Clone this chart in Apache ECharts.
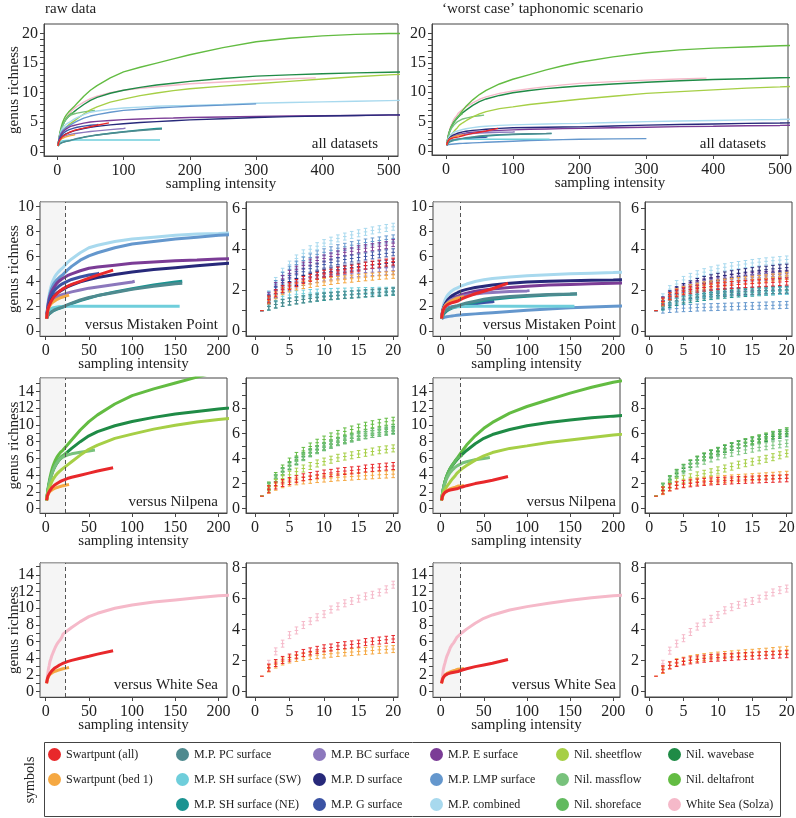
<!DOCTYPE html>
<html><head><meta charset="utf-8">
<script src="https://cdn.jsdelivr.net/npm/echarts@6/dist/echarts.min.js"></script>
<style>html,body{margin:0;padding:0;background:#fff}#c{width:796px;height:818px}</style>
</head><body><div id="c"></div>
<script>
const FONT = '"Liberation Serif","DejaVu Serif",serif';

// sampling-intensity grid: x = 1..20, then the coarser tail, then each dataset's last x
const XS_HEAD = [1,2,3,4,5,6,7,8,9,10,11,12,13,14,15,16,17,18,19,20];
const XS_TAIL = [25,30,40,50,60,80,100,125,150,175,200,250,300,350,400,450,500];

const NAMES = ['Swartpunt (all)','Swartpunt (bed 1)','M.P. PC surface','M.P. SH surface (SW)','M.P. SH surface (NE)',
  'M.P. BC surface','M.P. D surface','M.P. G surface','M.P. E surface','M.P. LMP surface','M.P. combined',
  'Nil. sheetflow','Nil. massflow','Nil. shoreface','Nil. wavebase','Nil. deltafront','White Sea (Solza)'];
const COLORS = ['#e8282b','#f5a842','#4f8a8f','#6fcedb','#1b9391','#8c78bd','#27297a','#3b53a4','#7b3c96','#6497cd',
  '#a8d9ee','#a6cf46','#78c27c','#62ba5f','#1f8b46','#63bc42','#f5b9c9'];
const END_X = [78,27,158,155,158,103,520,62,520,300,520,520,57,25,520,520,390];

// raw data (values at XS_HEAD, then XS_TAIL below END_X, then END_X)
const rawSwAll  = [1,1.55,1.85,2.05,2.2,2.35,2.5,2.6,2.7,2.8,2.85,2.95,3.0,3.05,3.1,3.2,3.25,3.3,3.35,3.4, 3.6,3.75,4.0,4.25,4.5,4.9];
const rawSwBed1 = [1,1.5,1.75,1.95,2.08,2.18,2.25,2.3,2.36,2.4,2.45,2.5,2.53,2.56,2.6,2.63,2.66,2.7,2.72,2.75, 2.85,2.9];
const rawPC     = [1,1.2,1.3,1.38,1.45,1.5,1.55,1.6,1.65,1.7,1.72,1.75,1.78,1.8,1.83,1.86,1.88,1.9,1.92,1.95, 2.1,2.25,2.5,2.7,2.85,3.1,3.35,3.6,3.8,3.85];
const rawShSW   = [1,1.4,1.6,1.7,1.76,1.8,1.83,1.86,1.88,1.9,1.91,1.92,1.93,1.94,1.95,1.96,1.96,1.97,1.97,1.98, 1.99,2,2,2,2,2,2,2,2,2];
const rawShNE   = [1,1.2,1.3,1.38,1.44,1.5,1.55,1.6,1.63,1.67,1.7,1.73,1.76,1.78,1.8,1.83,1.85,1.87,1.9,1.92, 2.05,2.2,2.45,2.65,2.85,3.15,3.4,3.7,3.95,4.0];
const rawBC     = [1,1.5,1.8,2.0,2.15,2.28,2.4,2.48,2.55,2.62,2.67,2.72,2.76,2.8,2.83,2.86,2.88,2.9,2.92,2.95, 3.05,3.15,3.3,3.45,3.55,3.75,3.95,4.0];
const rawD      = [1,1.5,1.8,2.05,2.25,2.4,2.55,2.65,2.75,2.85,2.92,3.0,3.05,3.1,3.15,3.2,3.23,3.26,3.3,3.35, 3.55,3.7,3.95,4.15,4.3,4.55,4.75,4.95,5.1,5.25,5.4,5.6,5.8,5.95,6.05,6.15,6.25,6.25];
const rawG      = [1,1.6,2.0,2.3,2.55,2.75,2.9,3.05,3.15,3.25,3.35,3.42,3.5,3.55,3.6,3.65,3.7,3.75,3.8,3.85, 4.0,4.15,4.35,4.5,4.6,4.65];
const rawE      = [1,1.7,2.2,2.55,2.8,3.0,3.2,3.35,3.45,3.55,3.65,3.75,3.85,3.9,4.0,4.05,4.1,4.15,4.2,4.3, 4.45,4.6,4.85,5.05,5.15,5.3,5.45,5.55,5.65,5.72,5.8,5.9,6.0,6.05,6.1,6.15,6.2,6.2];
const rawLMP    = [1,1.75,2.3,2.7,3.0,3.25,3.45,3.6,3.75,3.85,3.95,4.05,4.12,4.2,4.27,4.33,4.38,4.43,4.48,4.53, 4.9,5.2,5.7,6.05,6.3,6.7,7.0,7.2,7.4,7.55,7.7,7.9,8.1];
const rawComb   = [1,1.8,2.45,2.9,3.25,3.55,3.8,4.0,4.15,4.3,4.42,4.53,4.62,4.7,4.78,4.85,4.92,4.98,5.04,5.1, 5.5,5.8,6.3,6.7,6.9,7.2,7.4,7.55,7.7,7.8,7.85,8.0,8.2,8.35,8.45,8.55,8.65,8.7];
const rawSheet  = [1,1.6,2.05,2.4,2.7,2.95,3.2,3.4,3.6,3.75,3.9,4.05,4.15,4.25,4.35,4.45,4.55,4.65,4.72,4.8, 5.2,5.6,6.4,7.1,7.6,8.4,8.9,9.5,9.95,10.35,10.65,11.1,11.5,11.9,12.3,12.7,13.0,13.1];
const rawMass   = [1,1.75,2.4,2.9,3.35,3.75,4.1,4.4,4.65,4.9,5.1,5.3,5.45,5.6,5.72,5.85,5.95,6.05,6.12,6.2, 6.4,6.55,6.75,6.9,7.0];
const rawShore  = [1,1.8,2.45,3.0,3.45,3.85,4.2,4.5,4.75,5.0,5.2,5.4,5.55,5.7,5.85,6.0,6.1,6.2,6.3,6.4, 6.7];
const rawWave   = [1,1.75,2.4,2.95,3.4,3.8,4.15,4.45,4.7,4.9,5.1,5.3,5.45,5.6,5.75,5.85,5.95,6.05,6.15,6.25, 6.75,7.2,8.0,8.7,9.2,9.9,10.4,10.9,11.3,11.6,11.9,12.4,12.8,13.0,13.2,13.35,13.45,13.5];
const rawDelta  = [1,1.85,2.6,3.2,3.75,4.2,4.6,4.95,5.25,5.5,5.75,5.95,6.15,6.3,6.45,6.6,6.72,6.83,6.92,7.0, 7.6,8.2,9.4,10.4,11.2,12.5,13.5,14.3,15.0,15.7,16.4,17.6,18.6,19.2,19.6,19.85,20.0,20.0];
const rawPink   = [1,1.8,2.6,3.1,3.65,3.95,4.3,4.55,4.8,5.0,5.3,5.5,5.7,5.85,6.0,6.15,6.25,6.4,6.6,6.9, 7.3,7.7,8.4,9.0,9.4,10.0,10.4,10.75,11.0,11.25,11.5,11.8,12.1,12.35,12.5];

// 'worst case' taphonomic scenario
const wSwAll  = [1,1.45,1.7,1.85,1.95,2.02,2.08,2.13,2.17,2.2,2.23,2.25,2.28,2.3,2.32,2.34,2.36,2.38,2.4,2.42, 2.6,2.75,3.0,3.2,3.4,3.85];
const wSwBed1 = [1,1.4,1.7,1.9,2.0,2.1,2.17,2.23,2.28,2.33,2.37,2.41,2.45,2.48,2.51,2.55,2.58,2.62,2.66,2.7, 2.75,2.78];
const wPC     = [1,1.25,1.4,1.5,1.58,1.65,1.7,1.75,1.79,1.83,1.86,1.89,1.91,1.93,1.95,1.97,1.99,2.0,2.02,2.04, 2.15,2.25,2.4,2.55,2.65,2.78,2.86,2.93,2.98,3.0];
const wShSW   = [1,1.3,1.5,1.6,1.67,1.72,1.76,1.8,1.83,1.85,1.87,1.89,1.9,1.91,1.92,1.93,1.94,1.95,1.96,1.96, 1.97,1.98,1.99,2,2,2,2,2,2,2];
const wShNE   = [1,1.2,1.32,1.42,1.5,1.56,1.62,1.67,1.71,1.75,1.78,1.81,1.84,1.86,1.88,1.9,1.92,1.94,1.96,1.98, 2.08,2.17,2.32,2.45,2.55,2.7,2.8,2.9,2.96,2.98];
const wBC     = [1,1.45,1.72,1.9,2.03,2.14,2.22,2.3,2.36,2.42,2.47,2.51,2.55,2.58,2.61,2.63,2.65,2.67,2.69,2.7, 2.8,2.88,2.98,3.05,3.1,3.18,3.23,3.25];
const wD      = [1,1.5,1.8,2.0,2.15,2.28,2.4,2.5,2.58,2.65,2.72,2.78,2.83,2.88,2.93,2.97,3.0,3.04,3.07,3.1, 3.25,3.35,3.5,3.6,3.7,3.85,3.95,4.0,4.05,4.08,4.1,4.25,4.4,4.5,4.6,4.7,4.75,4.8];
const wG      = [1,1.3,1.5,1.62,1.7,1.76,1.8,1.84,1.87,1.9,1.92,1.94,1.95,1.96,1.97,1.98,1.99,2.0,2.0,2.0, 2.05,2.1,2.2,2.3,2.35,2.4];
const wE      = [1,1.45,1.75,1.95,2.08,2.2,2.3,2.38,2.45,2.5,2.55,2.6,2.64,2.67,2.7,2.72,2.74,2.76,2.78,2.8, 2.95,3.05,3.2,3.3,3.38,3.5,3.6,3.7,3.75,3.8,3.85,3.95,4.05,4.15,4.22,4.3,4.35,4.4];
const wLMP    = [1,1.05,1.08,1.1,1.12,1.13,1.15,1.16,1.17,1.18,1.19,1.2,1.21,1.22,1.23,1.24,1.25,1.26,1.27,1.28, 1.3,1.33,1.38,1.43,1.48,1.58,1.67,1.78,1.87,1.94,2.0,2.07,2.1];
const wComb   = [1,1.65,2.05,2.3,2.5,2.65,2.78,2.88,2.97,3.05,3.12,3.18,3.23,3.28,3.33,3.37,3.41,3.44,3.47,3.5, 3.65,3.78,3.98,4.12,4.22,4.35,4.45,4.53,4.6,4.65,4.7,4.85,5.0,5.1,5.2,5.3,5.35,5.4];
const wSheet  = [1,1.5,1.9,2.15,2.35,2.5,2.65,2.78,2.9,3.05,3.2,3.35,3.5,3.62,3.74,3.85,3.97,4.1,4.25,4.4, 4.8,5.15,5.8,6.3,6.7,7.2,7.5,7.9,8.2,8.5,8.8,9.3,9.8,10.1,10.4,10.7,10.9,11.0];
const wMass   = [1,1.7,2.25,2.7,3.05,3.35,3.6,3.82,4.0,4.17,4.32,4.45,4.57,4.68,4.78,4.88,4.97,5.05,5.12,5.2, 5.45,5.6,5.85,6.0,6.1];
const wShore  = [1,1.75,2.35,2.85,3.25,3.6,3.9,4.15,4.4,4.6,4.8,4.97,5.13,5.28,5.42,5.56,5.7,5.85,6.0,6.15, 6.4];
const wWave   = [1,1.7,2.3,2.8,3.2,3.55,3.85,4.1,4.35,4.55,4.75,4.92,5.08,5.22,5.36,5.5,5.62,5.75,5.88,6.0, 6.5,6.95,7.75,8.4,8.85,9.45,9.9,10.3,10.6,10.85,11.05,11.4,11.7,11.95,12.15,12.3,12.45,12.5];
const wDelta  = [1,1.75,2.35,2.85,3.25,3.6,3.9,4.15,4.4,4.6,4.8,4.98,5.15,5.3,5.45,5.6,5.75,5.88,6.0,6.15, 6.9,7.6,8.7,9.6,10.3,11.4,12.2,13.0,13.8,14.5,15.1,16.0,16.7,17.2,17.5,17.7,17.9,17.95];
const wPink   = [1,1.8,2.65,3.1,3.45,3.85,4.2,4.45,4.7,4.95,5.25,5.45,5.6,5.75,5.85,6.0,6.2,6.4,6.55,6.65, 7.1,7.5,8.2,8.8,9.2,9.8,10.2,10.6,10.95,11.25,11.5,11.8,12.05,12.25,12.4];

const RAW = [rawSwAll,rawSwBed1,rawPC,rawShSW,rawShNE,rawBC,rawD,rawG,rawE,rawLMP,rawComb,rawSheet,rawMass,rawShore,rawWave,rawDelta,rawPink];
const WORST = [wSwAll,wSwBed1,wPC,wShSW,wShNE,wBC,wD,wG,wE,wLMP,wComb,wSheet,wMass,wShore,wWave,wDelta,wPink];

const GROUP_ALL = [16,15,14,13,12,11,10,9,8,7,6,5,4,3,2,1,0];
const GROUP_MP  = [10,9,8,7,6,5,4,3,2,1,0];
const GROUP_NIL = [15,14,13,12,11,1,0];
const GROUP_WS  = [16,1,0];
const SHADE_END = 23;

const X_TOP = [0,100,200,300,400,500];
const X_BIG = [0,50,100,150,200];
const X_ZOOM = [0,5,10,15,20];

function curve(vals, endX){
  const pts = [];
  for (let i = 0; i < XS_HEAD.length && i < vals.length; i++) pts.push([XS_HEAD[i], vals[i]]);
  const tx = XS_TAIL.filter(x => x < endX).concat([endX]);
  for (let j = 0; j < tx.length && XS_HEAD.length + j < vals.length; j++) pts.push([tx[j], vals[XS_HEAD.length + j]]);
  return pts;
}
function range(a, b){ const r=[]; for(let v=a; v<=b; v++) r.push(v); return r; }

// panel layout: [left, top, width, height]
const PANELS = [
  {box:[44,24,354,132], x:[-20,514], y:[-0.7,21.6], xl:X_TOP, yl:[0,5,10,15,20], yt:range(0,20), grp:GROUP_ALL, sc:RAW, kind:'top', yname:true, note:'all datasets', nx:378, ny:144},
  {box:[432,24,356,131], x:[-21,512], y:[-0.68,21.6], xl:X_TOP, yl:[0,5,10,15,20], yt:range(0,20), grp:GROUP_ALL, sc:WORST, kind:'top', note:'all datasets', nx:766, ny:144},
];
const ROWS = [
  {top:202, h:134, by:[-0.4,10.38], byl:[0,2,4,6,8,10], byt:range(0,10), zy:[-0.24,6.31], zyl:[0,2,4,6], zyt:range(0,6), grp:GROUP_MP, note:'versus Mistaken Point', ny:325},
  {top:378, h:135, by:[-0.51,15.6], byl:[0,2,4,6,8,10,12,14], byt:range(0,15), zy:[-0.34,10.4], zyl:[0,2,4,6,8], zyt:range(0,10), grp:GROUP_NIL, note:'versus Nilpena', ny:502},
  {top:563, h:134, by:[-0.64,15.43], byl:[0,2,4,6,8,10,12,14], byt:range(0,15), zy:[-0.34,8.3], zyl:[0,2,4,6,8], zyt:range(0,8), grp:GROUP_WS, note:'versus White Sea', ny:685},
];
ROWS.forEach(r => {
  PANELS.push({box:[40,r.top,187,r.h], x:[-6.6,209.8], y:r.by, xl:X_BIG, yl:r.byl, yt:r.byt, grp:r.grp, sc:RAW, kind:'big', yname:true, note:r.note, nx:218, ny:r.ny});
  PANELS.push({box:[246,r.top,152,r.h], x:[-1.3,20.7], y:r.zy, xl:X_ZOOM, yl:r.zyl, yt:r.zyt, grp:r.grp, sc:RAW, kind:'zoom'});
  PANELS.push({box:[433,r.top,187,r.h], x:[-8.9,207.8], y:r.by, xl:X_BIG, yl:r.byl, yt:r.byt, grp:r.grp, sc:WORST, kind:'big', note:r.note, nx:616, ny:r.ny});
  PANELS.push({box:[645,r.top,147,r.h], x:[-0.6,20.77], y:r.zy, xl:X_ZOOM, yl:r.zyl, yt:r.zyt, grp:r.grp, sc:WORST, kind:'zoom'});
});

function errBar(color){
  return function(params, api){
    const p = api.coord([api.value(0), api.value(1)]);
    const w = 1.8;
    const h = api.value(0) <= 1 ? 0 : 3.5;
    const mk = (x1,y1,x2,y2) => ({type:'line', shape:{x1,y1,x2,y2}, style:{stroke:color, lineWidth:1}});
    const kids = [mk(p[0]-w, p[1], p[0]+w, p[1])];
    if (h > 0) {
      kids.push(mk(p[0], p[1]-h, p[0], p[1]+h), mk(p[0]-w, p[1]-h, p[0]+w, p[1]-h), mk(p[0]-w, p[1]+h, p[0]+w, p[1]+h));
    }
    return {type:'group', children:kids};
  };
}

const grids=[], xAxes=[], yAxes=[], series=[], graphics=[];
const txt = {color:'#222', fontFamily:FONT, fontSize:16};
const nameTxt = {color:'#222', fontFamily:FONT, fontSize:15};
PANELS.forEach((p, k) => {
  grids.push({left:p.box[0], top:p.box[1], width:p.box[2], height:p.box[3], show:true, borderColor:'#444', borderWidth:1,
    backgroundColor:'#fff', containLabel:false, outerBoundsMode:'none'});
  xAxes.push({gridIndex:k, type:'value', min:p.x[0], max:p.x[1], splitLine:{show:false},
    axisLine:{show:true, onZero:false, lineStyle:{color:'#444', width:1}},
    axisTick:{show:true, inside:false, length:4, lineStyle:{color:'#444'}, customValues:p.xl},
    axisLabel:{...txt, margin:7, customValues:p.xl},
    name: p.kind === 'zoom' ? '' : 'sampling intensity', nameLocation:'middle', nameGap:21, nameMoveOverlap:false,
    nameTextStyle:{...nameTxt}});
  yAxes.push({gridIndex:k, type:'value', min:p.y[0], max:p.y[1], splitLine:{show:false},
    axisLine:{show:true, onZero:false, lineStyle:{color:'#444', width:1}},
    axisTick:{show:true, inside:false, length:4, lineStyle:{color:'#444'}, customValues:p.yt},
    axisLabel:{...txt, margin:6, customValues:p.yl},
    name: p.yname ? 'genus richness' : '', nameLocation:'middle', nameGap:p.kind === 'top' ? 22 : 18, nameMoveOverlap:false,
    nameTextStyle:{...nameTxt}});
  p.grp.forEach(i => {
    const pts = curve(p.sc[i], END_X[i]);
    if (p.kind === 'zoom') {
      series.push({type:'custom', name:NAMES[i], xAxisIndex:k, yAxisIndex:k, silent:true, clip:true,
        itemStyle:{color:COLORS[i]}, encode:{x:0, y:1},
        data: pts.filter(q => q[0] <= 20), renderItem: errBar(COLORS[i])});
    } else {
      series.push({type:'line', name:NAMES[i], xAxisIndex:k, yAxisIndex:k, silent:true, showSymbol:false, symbol:'none',
        clip:true, data:pts, itemStyle:{color:COLORS[i]},
        lineStyle:{color:COLORS[i], width: p.kind === 'top' ? 1.4 : 3}});
    }
  });
  if (p.kind === 'big') {
    series.push({type:'line', xAxisIndex:k, yAxisIndex:k, data:[], silent:true, z:5,
      markArea:{silent:true, itemStyle:{color:'rgba(236,236,236,0.55)'}, data:[[{xAxis:p.x[0]},{xAxis:SHADE_END}]]},
      markLine:{silent:true, symbol:['none','none'], label:{show:false},
        lineStyle:{type:[4,3], color:'#555', width:1}, data:[{xAxis:SHADE_END}]}});
  }
  if (p.note) {
    graphics.push({type:'text', x:p.nx, y:p.ny, z:100,
      style:{text:p.note, align:'right', verticalAlign:'middle', fill:'#222', font:'15px ' + FONT}});
  }
});

graphics.push({type:'text', x:45, y:9, style:{text:'raw data', align:'left', verticalAlign:'middle', fill:'#222', font:'15px ' + FONT}});
graphics.push({type:'text', x:442, y:9, style:{text:'\u2018worst case\u2019 taphonomic scenario', align:'left', verticalAlign:'middle', fill:'#222', font:'15px ' + FONT}});
graphics.push({type:'rect', shape:{x:44.5, y:742.5, width:736, height:74}, style:{fill:'none', stroke:'#444', lineWidth:1}});
graphics.push({type:'text', x:30, y:780, rotation:Math.PI/2, style:{text:'symbols', align:'center', verticalAlign:'middle', fill:'#222', font:'14px ' + FONT}});

const LEG_COLS = [[0,1],[2,3,4],[5,6,7],[8,9,10],[11,12,13],[14,15,16]];
const LEG_LEFT = [48, 176, 313, 430, 556, 668];
const legends = LEG_COLS.map((col, c) => ({
  data: col.map(i => NAMES[i]), orient:'vertical', left:LEG_LEFT[c], top:748, itemGap:12, itemWidth:13, itemHeight:13,
  icon:'circle', selectedMode:false, padding:0,
  textStyle:{color:'#222', fontFamily:FONT, fontSize:12}
}));

const chart = echarts.init(document.getElementById('c'), null, {renderer:'canvas'});
chart.setOption({
  animation:false, backgroundColor:'#fff',
  grid:grids, xAxis:xAxes, yAxis:yAxes, series:series, legend:legends, graphic:graphics
});
</script></body></html>
